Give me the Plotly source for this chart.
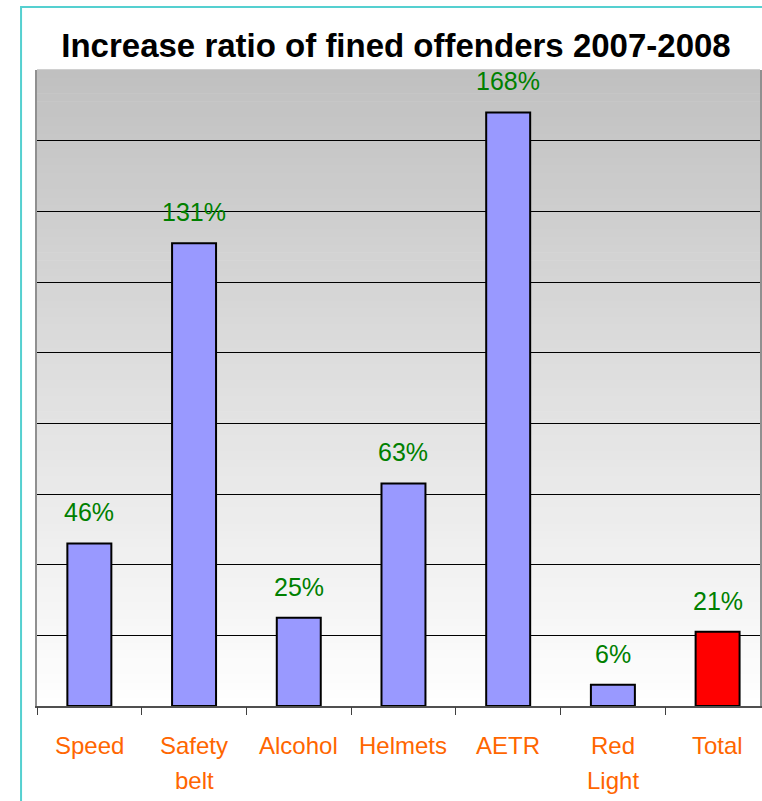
import plotly.graph_objects as go

categories = ["Speed", "Safety<br>belt", "Alcohol", "Helmets", "AETR", "Red<br>Light", "Total"]
values = [46, 131, 25, 63, 168, 6, 21]
labels = ["46%", "131%", "25%", "63%", "168%", "6%", "21%"]
bar_colors = ["#9999ff", "#9999ff", "#9999ff", "#9999ff", "#9999ff", "#9999ff", "#ff0000"]

W, H = 762, 801
ML, MR, MT, MB = 37, 0, 70, 95

fig = go.Figure()
fig.add_trace(go.Bar(
    x=list(range(len(categories))), y=values,
    marker=dict(color=bar_colors, line=dict(color="black", width=2)),
    width=0.42, hoverinfo="skip",
))

# gradient background as strips
shapes = []
n = 80
for i in range(n):
    y0 = i / n
    y1 = (i + 1) / n
    t = (y0 + y1) / 2  # 0 bottom, 1 top
    c = int(round(255 - (255 - 192) * t))
    shapes.append(dict(type="rect", xref="paper", yref="paper", x0=0, x1=1, y0=y0, y1=y1 + 0.001,
                       fillcolor=f"rgb({c},{c},{c})", line=dict(width=0), layer="below"))

pw = W - ML - MR
ph = H - MT - MB
# cyan frame
shapes.append(dict(type="rect", xref="paper", yref="paper",
                   x0=(21 - ML) / pw, x1=1.2, y0=-0.3, y1=(H - MB - 7) / ph,
                   line=dict(color="#55d0d0", width=2), fillcolor="rgba(0,0,0,0)", layer="above"))

annotations = []
for i, (v, lab) in enumerate(zip(values, labels)):
    annotations.append(dict(x=i, y=v, xref="x", yref="y", text=lab, showarrow=False,
                            yanchor="middle", yshift=31,
                            font=dict(family="Liberation Sans, Arial", size=25, color="#008000")))

# category labels (one annotation per text line for wider line spacing)
for i, cat in enumerate(categories):
    for j, line in enumerate(cat.split("<br>")):
        annotations.append(dict(x=i, xref="x", y=-(39 + 35 * j) / ph, yref="paper",
                                text=line, showarrow=False, yanchor="middle", xanchor="center",
                                font=dict(family="Liberation Sans, Arial", size=24, color="#ff6600")))

fig.update_layout(
    width=W, height=H,
    margin=dict(l=ML, r=MR, t=MT, b=MB),
    paper_bgcolor="white", plot_bgcolor="rgba(0,0,0,0)",
    showlegend=False,
    shapes=shapes, annotations=annotations,
    title=dict(text="<b>Increase ratio of fined offenders 2007-2008</b>",
               x=396 / W, xanchor="center", y=1 - 45 / H, yanchor="middle",
               font=dict(family="Liberation Sans, Arial", size=33, color="black")),
    xaxis=dict(
        tickmode="array", tickvals=list(range(len(categories))),
        showticklabels=False,
        range=[-0.5, 6.405],
        showgrid=False, zeroline=False,
        showline=True, linecolor="#505050", linewidth=2,
        ticks="",
    ),
    yaxis=dict(
        range=[0, 180], dtick=20, tick0=0,
        showgrid=True, gridcolor="black", gridwidth=1,
        showticklabels=False, zeroline=False,
        showline=True, linecolor="#909090", linewidth=2, mirror=True,
    ),
)

# tick marks on category boundaries via an overlaying axis
fig.add_trace(go.Scatter(x=[None], y=[None], xaxis="x2", showlegend=False))
fig.update_layout(xaxis2=dict(
    overlaying="x", side="bottom", range=[-0.5, 6.405],
    tickmode="array", tickvals=[i - 0.5 for i in range(len(categories) + 1)],
    showticklabels=False, ticks="outside", ticklen=8, tickcolor="#404040", tickwidth=1,
    showgrid=False, zeroline=False, showline=False,
))

fig.write_html("out.html")
